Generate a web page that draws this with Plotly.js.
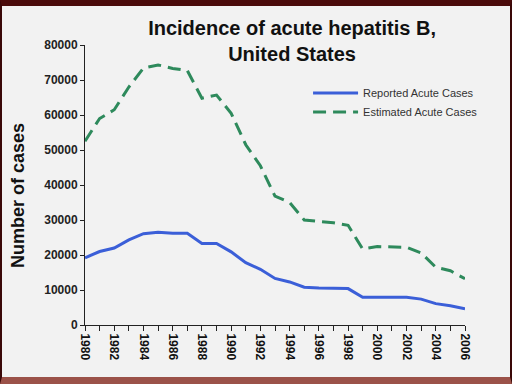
<!DOCTYPE html>
<html>
<head>
<meta charset="utf-8">
<script src="https://cdn.plot.ly/plotly-3.0.1.min.js"></script>
<style>
  html, body { margin: 0; padding: 0; background: #4b0b0b; }
  #frame {
    position: absolute; left: 0; top: 0; width: 508px; height: 371px;
    border-top: 6px solid #4b0b0b; border-left: 2px solid #3a0808;
    border-right: 2px solid #3a0808; border-bottom: 7px solid #9b5249;
  }
  #chart { width: 508px; height: 371px; }
</style>
</head>
<body>
<div id="frame"><div id="chart"></div></div>
<script>
const years = [1980,1981,1982,1983,1984,1985,1986,1987,1988,1989,1990,1991,1992,1993,1994,1995,1996,1997,1998,1999,2000,2001,2002,2003,2004,2005,2006];
const reported = [19200,21000,22000,24300,26100,26500,26200,26200,23300,23300,20900,17800,15900,13300,12300,10800,10600,10400,10400,7900,7900,7900,7900,7400,6100,5500,4600];
const estimated = [52500,59000,61500,68000,73400,74300,73300,72700,64800,65700,60500,51500,45500,36800,35000,30000,29600,29200,28500,21700,22400,22200,22200,20600,16500,15500,13200];
const xTickVals = [1980,1982,1984,1986,1988,1990,1992,1994,1996,1998,2000,2002,2004,2006];
const yTickVals = [0,10000,20000,30000,40000,50000,60000,70000,80000];

const traces = [
  { x: years, y: reported, name: 'Reported Acute Cases', type: 'scatter', mode: 'lines',
    line: { color: '#3b5fd8', width: 3 } },
  { x: years, y: estimated, name: 'Estimated Acute Cases', type: 'scatter', mode: 'lines',
    line: { color: '#2e8a5c', width: 3, dash: '13px,7px' } }
];

const layout = {
  width: 508, height: 371,
  margin: { l: 83, r: 45, t: 39, b: 52 },
  paper_bgcolor: '#f2f2f2', plot_bgcolor: '#f2f2f2',
  font: { family: 'Liberation Sans, Arial, sans-serif', color: '#222' },
  title: { text: '<b>Incidence of acute hepatitis B,<br>United States</b>',
    font: { size: 20, color: '#111', family: 'Liberation Sans, Arial, sans-serif' },
    xref: 'container', x: 0.571, xanchor: 'center',
    yref: 'container', y: 0.922, yanchor: 'middle' },
  showlegend: true,
  legend: { x: 0.587, xanchor: 'left', y: 0.880, yanchor: 'top', bgcolor: 'rgba(0,0,0,0)',
    font: { size: 11, color: '#333', family: 'Liberation Sans, Arial, sans-serif' },
    itemwidth: 45, tracegroupgap: 0 },
  xaxis: {
    range: [1980, 2006], tickvals: xTickVals, ticktext: xTickVals.map(String),
    tickangle: 90, ticks: 'outside', ticklen: 5, tickwidth: 1, tickcolor: '#222',
    showline: true, linecolor: '#222', linewidth: 1, showgrid: false, zeroline: false,
    tickfont: { size: 12, color: '#111', family: 'Liberation Sans, Arial, sans-serif', weight: 'bold' },
    minor: { dtick: 1, tick0: 1980, ticks: 'outside', ticklen: 5, tickcolor: '#222', showgrid: false }
  },
  yaxis: {
    range: [0, 80000], tickvals: yTickVals, ticktext: yTickVals.map(String),
    ticks: 'outside', ticklen: 4, tickwidth: 1, tickcolor: '#222',
    showline: true, linecolor: '#222', linewidth: 1, showgrid: false, zeroline: false,
    tickfont: { size: 12, color: '#222', family: 'Liberation Sans, Arial, sans-serif', weight: 'bold' }
  },
  annotations: [
    { text: '<b>Number of cases</b>', xref: 'paper', yref: 'paper',
      x: -0.176, y: 0.461, xanchor: 'center', yanchor: 'middle', textangle: -90, showarrow: false,
      font: { size: 18, color: '#111', family: 'Liberation Sans, Arial, sans-serif' } }
  ]
};

Plotly.newPlot('chart', traces, layout, { displayModeBar: false, staticPlot: true });
</script>
</body>
</html>
